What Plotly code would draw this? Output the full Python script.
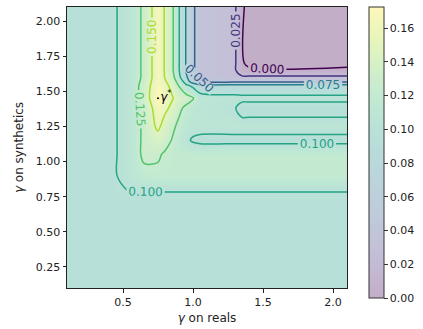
import plotly.graph_objects as go
import plotly.colors as pc

# ---- data ----
gamma_real = [0.10, 0.40, 0.55, 0.65, 0.75, 0.80, 0.85, 0.90, 0.95, 1.00, 1.05, 1.30, 1.35, 1.40, 2.10]
gamma_syn = [0.10, 0.70, 0.80, 0.90, 1.05, 1.15, 1.25, 1.38, 1.45, 1.54, 1.57, 1.60, 1.65, 1.70, 2.10]

score = [
    [0.095, 0.095, 0.095, 0.095, 0.095, 0.095, 0.095, 0.095, 0.095, 0.095, 0.095, 0.095, 0.095, 0.095, 0.095],
    [0.095, 0.095, 0.095, 0.095, 0.095, 0.095, 0.095, 0.095, 0.095, 0.095, 0.095, 0.095, 0.095, 0.095, 0.095],
    [0.095, 0.095, 0.101, 0.101, 0.101, 0.101, 0.101, 0.101, 0.101, 0.101, 0.101, 0.101, 0.101, 0.101, 0.101],
    [0.095, 0.095, 0.108, 0.118, 0.120, 0.120, 0.120, 0.120, 0.120, 0.120, 0.120, 0.120, 0.120, 0.120, 0.120],
    [0.095, 0.095, 0.108, 0.130, 0.128, 0.122, 0.120, 0.120, 0.120, 0.120, 0.120, 0.120, 0.120, 0.120, 0.120],
    [0.095, 0.095, 0.108, 0.130, 0.140, 0.133, 0.124, 0.115, 0.105, 0.097, 0.094, 0.094, 0.094, 0.094, 0.094],
    [0.095, 0.095, 0.108, 0.130, 0.155, 0.140, 0.130, 0.120, 0.112, 0.108, 0.108, 0.108, 0.108, 0.108, 0.108],
    [0.095, 0.095, 0.108, 0.132, 0.162, 0.155, 0.145, 0.130, 0.120, 0.112, 0.108, 0.101, 0.092, 0.092, 0.092],
    [0.095, 0.095, 0.108, 0.135, 0.1725, 0.160, 0.152, 0.140, 0.135, 0.127, 0.110, 0.106, 0.105, 0.105, 0.105],
    [0.095, 0.095, 0.108, 0.135, 0.168, 0.155, 0.145, 0.124, 0.105, 0.095, 0.085, 0.085, 0.085, 0.085, 0.085],
    [0.095, 0.095, 0.108, 0.132, 0.166, 0.152, 0.140, 0.115, 0.090, 0.060, 0.044, 0.044, 0.044, 0.044, 0.044],
    [0.095, 0.095, 0.108, 0.130, 0.165, 0.149, 0.135, 0.105, 0.080, 0.0547, 0.035, 0.030, 0.030, 0.030, 0.030],
    [0.095, 0.095, 0.108, 0.130, 0.165, 0.148, 0.130, 0.101, 0.074, 0.0547, 0.035, 0.028, 0.004, 0.003, 0.003],
    [0.095, 0.095, 0.108, 0.130, 0.165, 0.148, 0.130, 0.101, 0.074, 0.0547, 0.035, 0.028, 0.002, -0.004, -0.004],
    [0.095, 0.095, 0.108, 0.130, 0.165, 0.148, 0.130, 0.101, 0.074, 0.0547, 0.035, 0.028, 0.002, -0.004, -0.004],
]

gamma_star = [0.75, 1.45]
level_start, level_end, level_step = 0.0, 0.15, 0.025
z_min, z_max = 0.0, 0.1725
cbar_ticks = [0.00, 0.02, 0.04, 0.06, 0.08, 0.10, 0.12, 0.14, 0.16]
x_ticks = [0.5, 1.0, 1.5, 2.0]
y_ticks = [0.25, 0.50, 0.75, 1.00, 1.25, 1.50, 1.75, 2.00]

FONT = "DejaVu Sans"
ALPHA = 0.32


def parse_rgb(s):
    s = s[s.index("(") + 1:s.index(")")]
    return [float(v) for v in s.split(",")[:3]]


def blend(s, a=ALPHA):
    r, g, b = parse_rgb(s)
    return "rgb(%d,%d,%d)" % tuple(round(a * c + (1 - a) * 255) for c in (r, g, b))


n = 41
fracs = [i / (n - 1) for i in range(n)]
vir = pc.sample_colorscale("Viridis", fracs)
fill_cs = [[f, blend(c)] for f, c in zip(fracs, vir)]

top_frac = (level_end - z_min) / (z_max - z_min)
line_cols = pc.sample_colorscale("Viridis", [f * top_frac for f in fracs])
line_cs = [[f, c] for f, c in zip(fracs, line_cols)]

fig = go.Figure()
fig.add_trace(go.Heatmap(
    x=gamma_real, y=gamma_syn, z=score, zsmooth="best",
    zmin=z_min, zmax=z_max, colorscale=fill_cs, hoverinfo="skip",
    colorbar=dict(
        lenmode="pixels", len=291, thickness=15, thicknessmode="pixels",
        x=1.079, xanchor="left", y=1.0, yanchor="top", xpad=0, ypad=0,
        outlinewidth=1, outlinecolor="#333",
        tickmode="array", tickvals=cbar_ticks, ticktext=["%.2f" % v for v in cbar_ticks],
        ticks="outside", ticklen=3.5, tickcolor="#333",
        tickfont=dict(family=FONT, size=11, color="#222"),
    ),
))
fig.add_trace(go.Contour(
    x=gamma_real, y=gamma_syn, z=score, autocontour=False,
    contours=dict(start=level_start, end=level_end, size=level_step,
                  coloring="lines", showlabels=True, labelformat=".3f",
                  labelfont=dict(family=FONT, size=12)),
    line=dict(width=1.5), colorscale=line_cs, showscale=False, hoverinfo="skip",
))
fig.add_trace(go.Scatter(
    x=[gamma_star[0]], y=[gamma_star[1]], mode="markers+text",
    marker=dict(size=2, color="black"),
    text=["<i>γ</i><sup>*</sup>"], textposition="middle right",
    textfont=dict(family=FONT, size=12, color="black"),
    showlegend=False, hoverinfo="skip",
))

axis_common = dict(
    showgrid=False, zeroline=False, showline=True, mirror=True, automargin=False,
    linecolor="#222", linewidth=1, ticks="outside", ticklen=3.5,
    tickcolor="#222", tickfont=dict(family=FONT, size=11, color="#222"),
)
fig.update_xaxes(range=[0.1, 2.1], tickmode="array", tickvals=x_ticks,
                 ticktext=["%.1f" % v for v in x_ticks],
                 title=dict(text="<i>γ</i> on reals", font=dict(family=FONT, size=12, color="#222"), standoff=5),
                 **axis_common)
fig.update_yaxes(range=[0.1, 2.1], tickmode="array", tickvals=y_ticks,
                 ticktext=["%.2f" % v for v in y_ticks],
                 title=dict(text="<i>γ</i> on synthetics", font=dict(family=FONT, size=12, color="#222"), standoff=9),
                 **axis_common)
fig.update_layout(
    width=423, height=329, autosize=False,
    margin=dict(l=67, r=76, t=7, b=41, autoexpand=False),
    paper_bgcolor="white", plot_bgcolor="white",
    showlegend=False, font=dict(family=FONT),
)
fig.write_html("out.html", config={"displayModeBar": False},
               post_script="document.body.style.margin='0';document.body.style.padding='0';")
